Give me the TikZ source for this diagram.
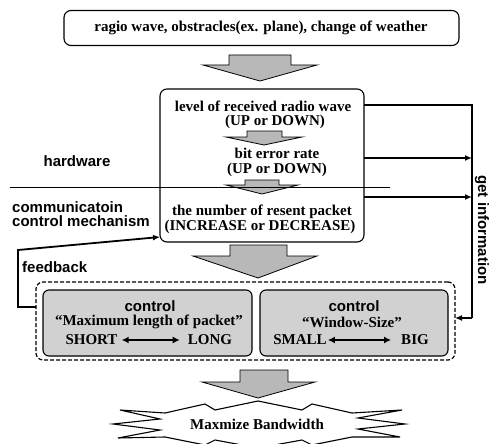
\documentclass[tikz,border=0pt]{standalone}
\usepackage{fontspec}
\setmainfont{Liberation Serif}
\newfontfamily\lsans{Liberation Sans}
\usetikzlibrary{arrows.meta}
\begin{document}
\begin{tikzpicture}[x=1pt,y=-1pt,
  serif/.style={font=\fontsize{15}{15}\selectfont\bfseries, inner sep=0pt},
  sans/.style={font=\lsans\fontsize{15}{15}\selectfont\bfseries, inner sep=0pt},
  rbox/.style={draw, line width=1.1pt, rounded corners=7pt, outer sep=0pt, inner sep=0pt},
  ibox/.style={draw, line width=1.1pt, rounded corners=6pt, fill=black!18, outer sep=0pt, inner sep=0pt},
  dbox/.style={draw, line width=1.2pt, dashed, dash pattern=on 4pt off 2pt, rounded corners=7pt, outer sep=0pt, inner sep=0pt},
  blk/.style={draw, line width=0.8pt, fill=black!28, line join=miter},
  conn/.style={line width=1.8pt, -{Latex[length=7pt,width=6pt]}},
  dbl/.style={line width=2.2pt, {Latex[length=7pt,width=7pt]}-{Latex[length=7pt,width=7pt]}},
  thinline/.style={line width=0.8pt}
]
\useasboundingbox (0,0) rectangle (493,444);

% top box
\node[rbox, minimum width=395pt, minimum height=35pt] (top) at (261.5,28) {};
\node[serif] (toptext) at (261,28) {ragio wave, obstracles(ex. plane), change of weather};

% block arrow 1
\draw[blk] (229,55) -- (291,55) -- (291,65) -- (317,65) -- (260,81) -- (203,65) -- (229,65) -- cycle;

% middle box
\node[rbox, minimum width=204pt, minimum height=153pt] (mid) at (262,165.5) {};
\node[serif, align=center, font=\fontsize{15}{14}\selectfont\bfseries] (lvl) at (263,115)
  {level of received radio wave\\\hspace*{24pt}(UP or DOWN)};
\draw[blk] (247,131) -- (282,131) -- (282,137) -- (302,137) -- (264,145) -- (226,137) -- (247,137) -- cycle;
\node[serif, align=center, font=\fontsize{15}{14.5}\selectfont\bfseries] (ber) at (277,162.5)
  {bit error rate\\(UP or DOWN)};
\draw[blk] (245,180) -- (279,180) -- (279,185) -- (298,185) -- (262,194) -- (226,185) -- (245,185) -- cycle;
\node[serif] (num) at (262,212) {the number of resent packet};
\node[serif] (inc) at (260,227) {(INCREASE or DECREASE)};

% divider
\coordinate (dl) at (10,187.5);
\coordinate (dr) at (390,187.5);
\draw[thinline] (dl) -- (dr);

% side labels
\node[sans] (hw) at (77,161) {hardware};
\node[sans, anchor=west, align=left, font=\lsans\fontsize{15}{14}\selectfont\bfseries] (cm) at (12,214)
  {communicatoin\\control mechanism};
\node[sans, anchor=west] (fb) at (22,267) {feedback};

% block arrow 2
\draw[blk] (230,245) -- (287,245) -- (287,256) -- (317,256) -- (258,278) -- (193,256) -- (230,256) -- cycle;

% dashed box and inner boxes
\node[dbox, minimum width=419pt, minimum height=78pt] (dash) at (245.5,321) {};
\node[ibox, minimum width=209pt, minimum height=66pt] (lbox) at (147.5,323) {};
\node[ibox, minimum width=188pt, minimum height=66pt] (rbx) at (354,323) {};

\node[sans] (c1) at (150,306) {control};
\node[serif] (maxl) at (149,322) {``Maximum length of packet''};
\node[serif] (short) at (91.5,340) {SHORT};
\node[serif] (long) at (210,340) {LONG};
\draw[dbl] ([xshift=4pt]short.east) -- ([xshift=-8pt]long.west);

\node[sans] (c2) at (354,306) {control};
\node[serif] (win) at (352,322) {``Window-Size''};
\node[serif] (small) at (300,340) {SMALL};
\node[serif] (big) at (415,340) {BIG};
\draw[dbl] ([xshift=1pt]small.east) -- ([xshift=-10pt]big.west);

% get information connectors
\coordinate (g1) at (472,105);
\coordinate (g2) at (472,318);
\draw[line width=1.8pt] (mid.east |- g1) -- (g1) -- (g2);
\draw[conn] (g2) -- (dash.east |- g2);
\draw[conn] (mid.east |- 0,158) -- (g1 |- 0,158);
\draw[conn] (mid.east |- 0,197) -- (g1 |- 0,197);
\node[sans, rotate=-90] (gi) at (482,230) {get information};

% feedback connector
\coordinate (f1) at (18,307);
\coordinate (f2) at (18,250);
\coordinate (f3) at (160,237);
\draw[conn] (dash.west |- f1) -- (f1) -- (f2) -- (f3);

% block arrow 3
\draw[blk] (240,370) -- (288,370) -- (288,382) -- (315,382) -- (258,398) -- (202,382) -- (240,382) -- cycle;

% starburst
\draw[line width=1.1pt, fill=white, line join=miter]
 (165,413) -- (205,404) -- (215,410) -- (258,401) -- (302,410) -- (312,404) -- (352,413)
 -- (402,410) -- (358,418) -- (405,424) -- (358,429) -- (400,437) -- (352,437)
 -- (312,445) -- (302,440) -- (258,448) -- (215,440) -- (205,445) -- (165,437)
 -- (118,438) -- (160,430) -- (113,424) -- (160,419) -- (120,410) -- cycle;
\node[serif] (bw) at (257,424) {Maxmize Bandwidth};
\end{tikzpicture}
\end{document}
